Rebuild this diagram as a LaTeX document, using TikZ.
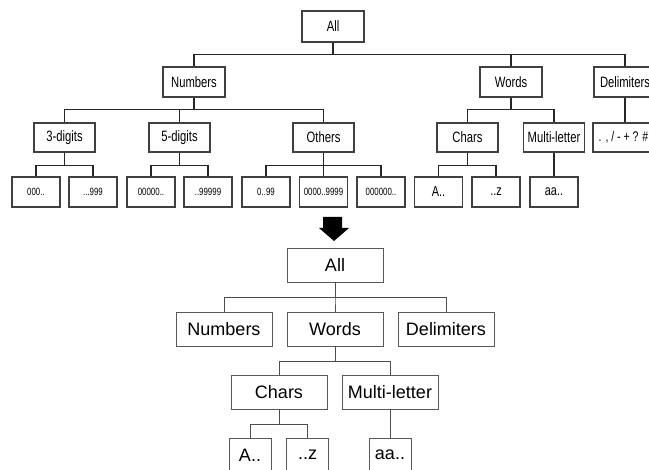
\documentclass[tikz,border=0pt]{standalone}
\usepackage{fontspec}
\setmainfont{Liberation Sans}
\newfontfamily\narrowf{Liberation Sans}[FakeStretch=0.75]
\begin{document}
\begin{tikzpicture}[x=1pt,y=-1pt,
  tbox/.style={draw=black!75,line width=1.1pt,fill=white,inner sep=0pt,font=\narrowf\fontsize{15}{17}\selectfont},
  tlvl/.style={tbox,minimum width=62pt,minimum height=30pt},
  tleaf/.style={tbox,minimum width=48pt,minimum height=30pt,font=\narrowf\fontsize{10.5}{12}\selectfont},
  tleafb/.style={tleaf,font=\narrowf\fontsize{14.5}{16}\selectfont},
  tline/.style={draw=black!85,line width=1.6pt},
  bbox/.style={draw=black!65,line width=0.9pt,fill=white,inner sep=0pt,minimum width=96pt,minimum height=34pt,font=\fontsize{18}{20}\selectfont},
  bleaf/.style={bbox,minimum width=42pt},
  bline/.style={draw=black!70,line width=1pt}]
\clip (0,0) rectangle (649,470);
\fill[white] (0,0) rectangle (649,470);
% ---------- top tree ----------
\node[tlvl,minimum height=31pt] (tAll) at (333,26.5) {All};
\node[tlvl] (tNum) at (194,82) {Numbers};
\node[tlvl] (tWords) at (511,82) {Words};
\node[tlvl] (tDel) at (625,82) {Delimiters};
\node[tlvl,minimum width=61pt,minimum height=29pt] (t3) at (64.5,137.5) {3-digits};
\node[tlvl,minimum width=61pt,minimum height=29pt] (t5) at (179.5,137.5) {5-digits};
\node[tlvl,minimum width=61pt,minimum height=29pt] (tOth) at (323.5,137.5) {Others};
\node[tlvl,minimum width=61pt,minimum height=29pt] (tChars) at (467.5,137.5) {Chars};
\node[tlvl,minimum width=61pt,minimum height=29pt] (tMulti) at (554,137.5) {Multi-letter};
\node[tlvl,minimum width=61pt,minimum height=29pt,font=\narrowf\fontsize{14}{16}\selectfont] (tDl) at (623.5,137.5) {. , / - + ? \#};
\node[tleaf] (l1) at (36,192) {000..};
\node[tleaf] (l2) at (93,192) {...999};
\node[tleaf] (l3) at (151,192) {00000..};
\node[tleaf] (l4) at (208,192) {..99999};
\node[tleaf] (l5) at (266,192) {0..99};
\node[tleaf] (l6) at (323.5,192) {0000..9999};
\node[tleaf] (l7) at (381,192) {000000..};
\node[tleafb] (lA) at (438.5,192) {A..};
\node[tleafb] (lz) at (496,192) {..z};
\node[tleafb] (laa) at (554,192) {aa..};
\begin{scope}[tline]
\foreach \c in {tNum,tWords,tDel} \draw (tAll.south) -- ++(0,12) -| (\c.north);
\foreach \c in {t3,t5,tOth} \draw (tNum.south) -- ++(0,12) -| (\c.north);
\foreach \c in {tChars,tMulti} \draw (tWords.south) -- ++(0,12) -| (\c.north);
\draw (tDel.south) -- (tDel.south |- tDl.north);
\foreach \c in {l1,l2} \draw (t3.south) -- ++(0,13) -| (\c.north);
\foreach \c in {l3,l4} \draw (t5.south) -- ++(0,13) -| (\c.north);
\foreach \c in {l5,l6,l7} \draw (tOth.south) -- ++(0,13) -| (\c.north);
\foreach \c in {lA,lz} \draw (tChars.south) -- ++(0,13) -| (\c.north);
\draw (tMulti.south) -- (laa.north);
\end{scope}
% ---------- arrow ----------
\fill[black] (323,217) -- (342,217) -- (342,228) -- (349,228) -- (334,241) -- (319,228) -- (323,228) -- cycle;
% ---------- bottom tree ----------
\node[bbox] (bAll) at (335,265) {All};
\node[bbox] (bNum) at (224,329) {Numbers};
\node[bbox] (bWords) at (335,329) {Words};
\node[bbox] (bDel) at (446,329) {Delimiters};
\node[bbox] (bChars) at (279,392) {Chars};
\node[bbox] (bMulti) at (390,392) {Multi-letter};
\node[bleaf] (bA) at (250,455) {A..};
\node[bleaf] (bz) at (307.5,455) {..z};
\node[bleaf] (baa) at (390,455) {aa..};
\begin{scope}[bline]
\foreach \c in {bNum,bWords,bDel} \draw (bAll.south) -- ++(0,15) -| (\c.north);
\foreach \c in {bChars,bMulti} \draw (bWords.south) -- ++(0,15) -| (\c.north);
\foreach \c in {bA,bz} \draw (bChars.south) -- ++(0,15) -| (\c.north);
\draw (bMulti.south) -- (baa.north);
\end{scope}
\end{tikzpicture}
\end{document}
